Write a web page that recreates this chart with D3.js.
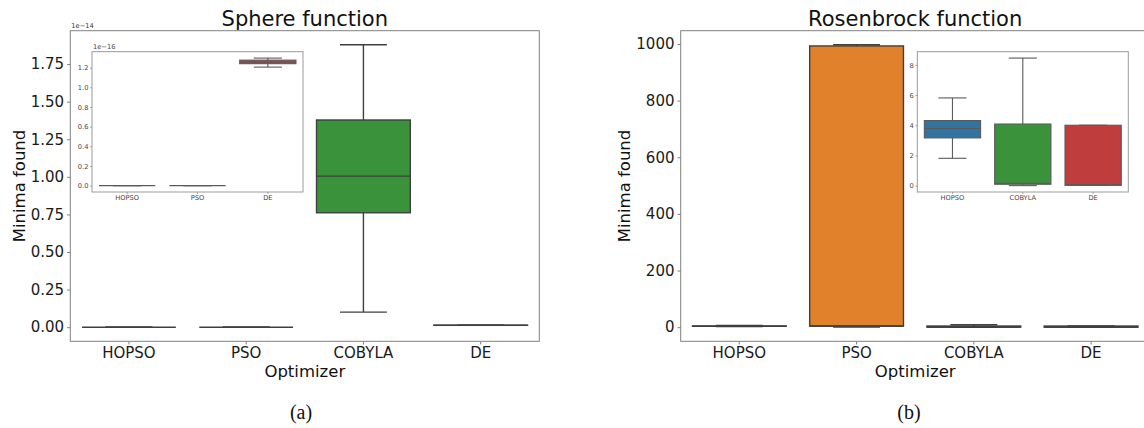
<!DOCTYPE html>
<html>
<head>
<meta charset="utf-8">
<script src="https://cdn.jsdelivr.net/npm/d3@7"></script>
<style>
  html, body { margin: 0; padding: 0; background: #fff; }
  svg { display: block; }
  text { font-family: "DejaVu Sans", sans-serif; }
</style>
</head>
<body>
<svg id="fig" width="1144" height="428"></svg>
<script>
// Optimizers compared and their box colours
const categories = ["HOPSO", "PSO", "COBYLA", "DE"];
const palette = ["#3274a1", "#e1812c", "#3a923a", "#c03d3e"];

// Sphere function: box statistics per optimizer (whisker low, Q1, median, Q3, whisker high)
const sphereLow    = [0, 0, 0.100e-14, 1.206e-16];
const sphereQ1     = [0, 0, 0.761e-14, 1.241e-16];
const sphereMedian = [0, 0, 1.005e-14, 1.257e-16];
const sphereQ3     = [0, 0, 1.378e-14, 1.277e-16];
const sphereHigh   = [0, 0, 1.878e-14, 1.298e-16];

// Rosenbrock function: box statistics per optimizer
const rosenLow    = [1.81, 0.3, 0.00, 0.02];
const rosenQ1     = [3.16, 3.6, 0.09, 0.02];
const rosenMedian = [3.78, 4.4, 0.15, 0.05];
const rosenQ3     = [4.31, 993, 4.08, 4.00];
const rosenHigh   = [5.81, 997, 8.45, 4.00];

// Tick values
const sphereTicks = [0, 0.25e-14, 0.5e-14, 0.75e-14, 1.0e-14, 1.25e-14, 1.5e-14, 1.75e-14];
const sphereInsetTicks = [0, 0.2e-16, 0.4e-16, 0.6e-16, 0.8e-16, 1.0e-16, 1.2e-16];
const rosenTicks = [0, 200, 400, 600, 800, 1000];
const rosenInsetTicks = [0, 2, 4, 6, 8];

// Which optimizers appear in each zoomed inset
const sphereInsetCats = ["HOPSO", "PSO", "DE"];
const rosenInsetCats = ["HOPSO", "COBYLA", "DE"];

const svg = d3.select("#fig");

function boxRows(low, q1, med, q3, high, cats) {
  return categories.map((c, i) => ({
    cat: c, color: palette[i],
    low: low[i], q1: q1[i], med: med[i], q3: q3[i], high: high[i]
  })).filter(d => cats.includes(d.cat));
}

function paddedDomain(rows) {
  const lo = d3.min(rows, d => d.low), hi = d3.max(rows, d => d.high);
  const m = (hi - lo) * 0.05;
  return [lo - m, hi + m];
}

// Draws one boxplot panel (main or inset)
function drawPanel(g, rows, opt) {
  const x = d3.scaleBand().domain(rows.map(d => d.cat)).range([opt.left, opt.right]).padding(0);
  const y = d3.scaleLinear().domain(paddedDomain(rows)).range([opt.bottom, opt.top]);
  const bw = x.bandwidth() * 0.8;

  if (opt.background) {
    g.append("rect").attr("x", opt.left).attr("y", opt.top)
      .attr("width", opt.right - opt.left).attr("height", opt.bottom - opt.top)
      .attr("fill", "#fff");
  }

  const boxes = g.append("g");
  rows.forEach(d => {
    const cx = x(d.cat) + x.bandwidth() / 2;
    const b = boxes.append("g")
      .attr("stroke", opt.lineColor).attr("stroke-width", opt.lineWidth).attr("fill", "none");
    // whiskers
    b.append("line").attr("x1", cx).attr("x2", cx).attr("y1", y(d.q1)).attr("y2", y(d.low));
    b.append("line").attr("x1", cx).attr("x2", cx).attr("y1", y(d.q3)).attr("y2", y(d.high));
    // caps
    b.append("line").attr("x1", cx - bw / 4).attr("x2", cx + bw / 4).attr("y1", y(d.low)).attr("y2", y(d.low));
    b.append("line").attr("x1", cx - bw / 4).attr("x2", cx + bw / 4).attr("y1", y(d.high)).attr("y2", y(d.high));
    // box
    b.append("rect").attr("x", cx - bw / 2).attr("width", bw)
      .attr("y", y(d.q3)).attr("height", Math.max(0, y(d.q1) - y(d.q3)))
      .attr("fill", d.color);
    // median
    b.append("line").attr("x1", cx - bw / 2).attr("x2", cx + bw / 2).attr("y1", y(d.med)).attr("y2", y(d.med));
  });

  // axes
  const yAxis = g.append("g").attr("transform", `translate(${opt.left},0)`)
    .call(d3.axisLeft(y).tickValues(opt.ticks).tickSize(opt.tickSize).tickPadding(opt.tickPad)
      .tickFormat(opt.tickFormat));
  const xAxis = g.append("g").attr("transform", `translate(0,${opt.bottom})`)
    .call(d3.axisBottom(x).tickSize(opt.tickSize).tickPadding(opt.tickPad));
  [yAxis, xAxis].forEach(a => {
    a.select(".domain").remove();
    a.selectAll(".tick line").attr("stroke", opt.frameColor);
    a.selectAll(".tick text").attr("fill", opt.textColor)
      .style("font-size", opt.tickFont + "px").style("font-family", '"DejaVu Sans", sans-serif');
  });

  // frame
  g.append("rect").attr("x", opt.left).attr("y", opt.top)
    .attr("width", opt.right - opt.left).attr("height", opt.bottom - opt.top)
    .attr("fill", "none").attr("stroke", opt.frameColor).attr("stroke-width", 1);

  // scale multiplier shown above the y axis
  if (opt.offsetText) {
    g.append("text").attr("x", opt.left + 1).attr("y", opt.top - 2.5)
      .attr("fill", opt.offsetColor).style("font-size", "6.7px")
      .text(opt.offsetText);
  }
  return { x, y };
}

function drawFigure(cfg) {
  const g = svg.append("g");
  const rows = boxRows(cfg.low, cfg.q1, cfg.med, cfg.q3, cfg.high, categories);
  drawPanel(g, rows, {
    left: cfg.left, right: cfg.left + 469, top: 30.7, bottom: 341.3,
    ticks: cfg.ticks, tickFormat: cfg.tickFormat, tickSize: 3.2, tickPad: 3,
    tickFont: 15, lineColor: "#3f3f3f", lineWidth: 1.4, frameColor: "#808080",
    textColor: "#1a1a1a", offsetText: cfg.offsetText, offsetColor: "#333"
  });
  const cx = cfg.left + 469 / 2;
  g.append("text").attr("x", cx).attr("y", 26).attr("text-anchor", "middle")
    .style("font-size", "21px").attr("fill", "#111").text(cfg.title);
  g.append("text").attr("x", cx).attr("y", 377).attr("text-anchor", "middle")
    .style("font-size", "16.5px").attr("fill", "#111").text("Optimizer");
  g.append("text").attr("transform", `translate(${cfg.left - cfg.ylabelGap},186) rotate(-90)`)
    .attr("text-anchor", "middle").style("font-size", "16.5px").attr("fill", "#111")
    .text("Minima found");
  g.append("text").attr("x", cfg.captionX).attr("y", 419).attr("text-anchor", "middle")
    .style("font-family", '"Liberation Serif", serif').style("font-size", "20px")
    .attr("fill", "#111").text(cfg.caption);

  const insetRows = boxRows(cfg.low, cfg.q1, cfg.med, cfg.q3, cfg.high, cfg.insetCats);
  drawPanel(g.append("g"), insetRows, {
    left: cfg.insetLeft, right: cfg.insetLeft + 211, top: 51.7, bottom: 192,
    ticks: cfg.insetTicks, tickFormat: cfg.insetFormat, tickSize: 1.8, tickPad: 1.8,
    tickFont: 6.7, lineColor: "#5a5a5a", lineWidth: 1.1, frameColor: "#9a9a9a",
    textColor: "#444", background: true, offsetText: cfg.insetOffsetText, offsetColor: "#444"
  });
}

drawFigure({
  title: "Sphere function", caption: "(a)", captionX: 301, left: 70.3, ylabelGap: 45.5,
  low: sphereLow, q1: sphereQ1, med: sphereMedian, q3: sphereQ3, high: sphereHigh,
  ticks: sphereTicks, tickFormat: d => (d / 1e-14).toFixed(2), offsetText: "1e\u221214",
  insetCats: sphereInsetCats, insetLeft: 92, insetTicks: sphereInsetTicks,
  insetFormat: d => (d / 1e-16).toFixed(1), insetOffsetText: "1e\u221216"
});

drawFigure({
  title: "Rosenbrock function", caption: "(b)", captionX: 909, left: 680.7, ylabelGap: 51,
  low: rosenLow, q1: rosenQ1, med: rosenMedian, q3: rosenQ3, high: rosenHigh,
  ticks: rosenTicks, tickFormat: d3.format("d"), offsetText: null,
  insetCats: rosenInsetCats, insetLeft: 917.3, insetTicks: rosenInsetTicks,
  insetFormat: d3.format("d"), insetOffsetText: null
});
</script>
</body>
</html>
